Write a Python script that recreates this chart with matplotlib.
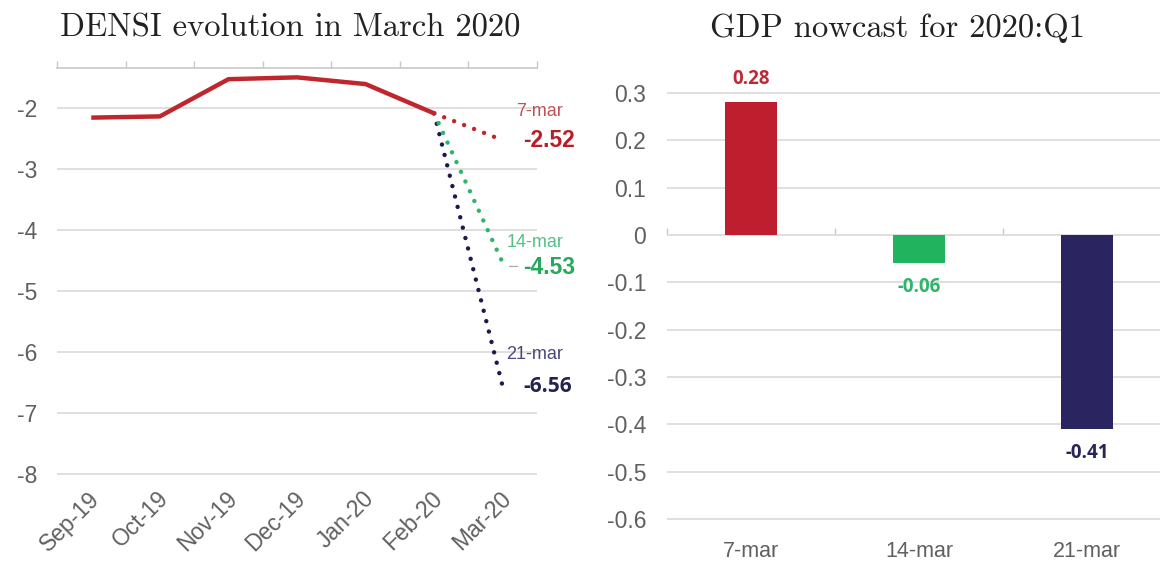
import matplotlib
matplotlib.use("Agg")
import matplotlib.pyplot as plt
import matplotlib.transforms as mtransforms
import numpy as np

# ---------------- data ----------------
months = ["Sep-19", "Oct-19", "Nov-19", "Dec-19", "Jan-20", "Feb-20", "Mar-20"]
densi_hist = [-2.15, -2.13, -1.52, -1.49, -1.60, -2.08]          # Sep-19 .. Feb-20
vintages = ["7-mar", "14-mar", "21-mar"]
densi_march = [-2.52, -4.53, -6.56]                              # Mar-20 estimate per vintage
densi_yticks = [-2, -3, -4, -5, -6, -7, -8]

gdp_nowcast = [0.28, -0.06, -0.41]
gdp_yticks = [0.3, 0.2, 0.1, 0, -0.1, -0.2, -0.3, -0.4, -0.5, -0.6]

# ---------------- style ----------------
W, H = 1160, 563
line_red = "#C0272D"
dot_cols = ["#C0272D", "#2DB567", "#1B1A4F"]
name_cols = ["#BE5257", "#52C283", "#4A4878"]
val_cols = ["#B81E28", "#27A85A", "#24224F"]
bar_cols = ["#BE1E2D", "#21B35E", "#2A2560"]
barlab_cols = ["#BE2A33", "#30B36A", "#272458"]
grid_col = "#DCDCDC"
tick_col = "#606060"
tick_font = ["Liberation Sans", "DejaVu Sans"]
TICK_FS = 16.5

fig = plt.figure(figsize=(W / 100, H / 100), dpi=100)


def rect(l, r, t, b):
    return [l / W, 1 - b / H, (r - l) / W, (b - t) / H]


# ---------------- left: DENSI ----------------
ax1 = fig.add_axes(rect(57, 537, 67.6, 475.7))
ax1.set_xlim(-0.5, 6.5)
ax1.set_ylim(-8.02, -1.33)
x_hist = np.arange(len(densi_hist))
ax1.plot(x_hist, densi_hist, color=line_red, lw=3.2, solid_capstyle="butt",
         solid_joinstyle="round", zorder=4)
x_feb, x_mar = len(densi_hist) - 1, len(densi_hist)
for i in range(len(vintages) - 1, -1, -1):
    ax1.plot([x_feb, x_mar], [densi_hist[-1], densi_march[i]], color=dot_cols[i],
             lw=3.2, linestyle=(0, (0.01, 2.4)), dash_capstyle="round", zorder=3 + (i == 0))

# annotations (names above, bold values at the end point)
name_dy = [0.47, 0.33, 0.53]
name_dx = [0.2, 0.05, 0.05]
for i, (name, v) in enumerate(zip(vintages, densi_march)):
    ax1.text(x_mar + name_dx[i], v + name_dy[i], name, color=name_cols[i],
             fontsize=13, family=tick_font, ha="left", va="center")
    ax1.text(x_mar + 0.3, v - (0.08 if i == 1 else 0.0), f"{v:.2f}", color=val_cols[i],
             fontsize=15 if i == 2 else 16.5, fontweight="bold",
             family=["Open Sans"] if i == 2 else ["Liberation Sans"],
             ha="left", va="center")
# small leader line next to the 14-mar value
ax1.annotate("", xy=(x_mar + 0.1, densi_march[1] - 0.06),
             xytext=(x_mar + 0.22, densi_march[1] - 0.06),
             arrowprops=dict(arrowstyle="-", color="#AAAAAA", lw=0.9,
                             shrinkA=0, shrinkB=0))

ax1.set_yticks(densi_yticks)
ax1.set_yticklabels([str(t) for t in densi_yticks])
ax1.set_xticks(np.arange(len(months)))
ax1.set_xticklabels(months, rotation=45, ha="right", va="center", rotation_mode="anchor")
ax1.set_xticks(np.arange(len(months) + 1) - 0.5, minor=True)
ax1.tick_params(axis="x", which="major", length=0, pad=14, labelsize=TICK_FS,
                labelcolor=tick_col)
ax1.tick_params(axis="x", which="minor", top=True, bottom=False, direction="out",
                length=5, color="#C8C8C8", width=1)
ax1.tick_params(axis="y", length=0, pad=14, labelsize=TICK_FS, labelcolor=tick_col)
shift = mtransforms.ScaledTranslation(5 / 100, 0, fig.dpi_scale_trans)
for lab in ax1.get_xticklabels():
    lab.set_family(tick_font)
    lab.set_transform(lab.get_transform() + shift)
for lab in ax1.get_yticklabels():
    lab.set_family(tick_font)
for s in ["left", "right", "bottom"]:
    ax1.spines[s].set_visible(False)
ax1.spines["top"].set_color("#C8C8C8")
ax1.spines["top"].set_linewidth(1.2)
ax1.yaxis.grid(True, color=grid_col, lw=1.3)
ax1.set_axisbelow(True)

# ---------------- right: GDP nowcast ----------------
ax2 = fig.add_axes(rect(667, 1171, 91.6, 520.4))
ymin, ymax = -0.603, 0.303
ax2.set_xlim(-0.5, 2.5)
ax2.set_ylim(ymin, ymax)
xb = np.arange(len(gdp_nowcast))
ax2.bar(xb, gdp_nowcast, width=0.31, color=bar_cols, zorder=3)
for i, v in enumerate(gdp_nowcast):
    off = 17 if v >= 0 else -17
    ax2.annotate(f"{v:.2f}", (xb[i], v), xytext=(0, off), textcoords="offset points",
                 ha="center", va="center", fontsize=13.5, fontweight="bold",
                 family=["Open Sans"], color=barlab_cols[i])
ax2.set_yticks(gdp_yticks)
ax2.set_yticklabels([f"{t:g}" for t in gdp_yticks])
ax2.set_xticks(xb)
ax2.set_xticklabels(vintages)
ax2.tick_params(axis="x", length=0, pad=15, labelsize=TICK_FS - 1, labelcolor=tick_col)
ax2.tick_params(axis="y", length=0, pad=15, labelsize=TICK_FS, labelcolor=tick_col)
for lab in ax2.get_xticklabels() + ax2.get_yticklabels():
    lab.set_family(tick_font)
for s in ax2.spines.values():
    s.set_visible(False)
ax2.yaxis.grid(True, color=grid_col, lw=1.3)
ax2.set_axisbelow(True)
sec = ax2.secondary_xaxis((0 - ymin) / (ymax - ymin))
sec.set_xticks(np.arange(len(gdp_nowcast) + 1) - 0.5)
sec.set_xticklabels([])
sec.tick_params(length=5, direction="out", color="#C8C8C8", width=1)
sec.spines["bottom"].set_color("#C8C8C8")
sec.spines["bottom"].set_linewidth(1.2)
for s in ["top", "left", "right"]:
    if s in sec.spines:
        sec.spines[s].set_visible(False)

# ---------------- titles ----------------
fig.text(290 / W, 1 - 28 / H, "DENSI evolution in March 2020", family="cmr10",
         fontsize=23.5, ha="center", va="center", color="#222222")
fig.text(897 / W, 1 - 28 / H, "GDP nowcast for 2020:Q1", family="cmr10",
         fontsize=23.5, ha="center", va="center", color="#222222")

fig.savefig("out.png", dpi=100)
